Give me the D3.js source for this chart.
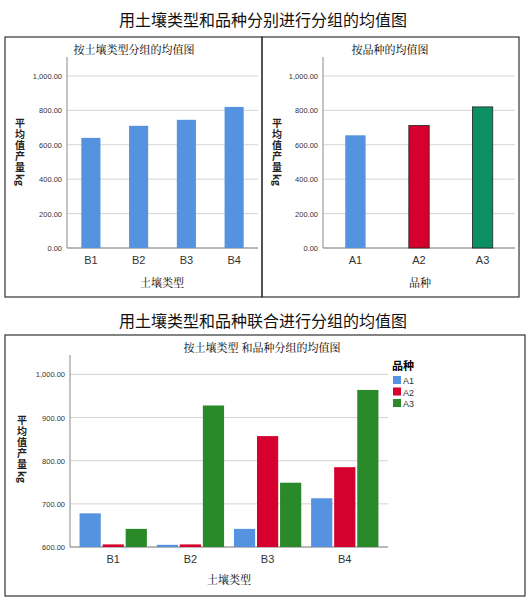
<!DOCTYPE html>
<html><head><meta charset="utf-8">
<script src="https://cdn.jsdelivr.net/npm/d3@7"></script>
<style>body{margin:0;background:#fff;font-family:"Noto Sans CJK SC",sans-serif}</style>
</head><body><svg id="c" width="527" height="603"></svg>
<script>
// data
var soilTypes = ['B1','B2','B3','B4'];
var soilMeans = [640, 710, 745, 820];
var varieties = ['A1','A2','A3'];
var varietyMeans = [655, 712, 820];
var varietyColors = ['#5592e0','#d5002d','#0a9064'];
var legendColors = ['#5592e0','#d5002d','#2a8a2a'];
var comboMeans = { // per soil type, A1..A3
    B1: [678, 606, 642],
    B2: [605, 606, 928],
    B3: [642, 857, 749],
    B4: [713, 785, 964]
};
var ticks1 = [0,200,400,600,800,1000];
var ticks2 = [600,700,800,900,1000];

var svg = d3.select('#c');
var fmt = d3.format(',.2f');
var serif = '"Noto Serif CJK SC","Noto Sans CJK SC",serif';

function title(t, x, y, size, weight) {
    svg.append('text').attr('x',x).attr('y',y).attr('text-anchor','middle')
        .attr('font-size',size).attr('font-weight',weight||'normal').attr('fill','#111').text(t);
}
function box(x,y,w,h){
    svg.append('rect').attr('x',x).attr('y',y).attr('width',w).attr('height',h)
        .attr('fill','none').attr('stroke','#333').attr('stroke-width',1.2);
}
function ylabel(x, yTop) {
    var step = 11;
    var g = svg.append('text').attr('font-size',10).attr('font-weight','bold').attr('fill','#222');
    '平均值产量'.split('').forEach(function(c,i){
        g.append('tspan').attr('x',x).attr('y',yTop+i*step).attr('text-anchor','middle').text(c);
    });
    svg.append('text').attr('transform','translate('+(x-4)+','+(yTop+4*step+3)+') rotate(90)')
        .attr('font-size',10).attr('font-weight','bold').attr('fill','#222').text('kg');
}
function axesY(y, x0, x1, ticks) {
    var g = svg.append('g');
    ticks.forEach(function(t){
        g.append('line').attr('x1',x0).attr('x2',x1).attr('y1',y(t)).attr('y2',y(t))
            .attr('stroke','#d4d4d4').attr('stroke-width',1);
        g.append('text').attr('x',x0-5).attr('y',y(t)+3).attr('text-anchor','end')
            .attr('font-size',7.5).attr('fill','#333').attr('font-family','Arial, Liberation Sans').text(fmt(t));
    });
    svg.append('line').attr('x1',x0).attr('x2',x0).attr('y1',y.range()[1]).attr('y2',y.range()[0]).attr('stroke','#888');
    svg.append('line').attr('x1',x0).attr('x2',x1).attr('y1',y.range()[0]).attr('y2',y.range()[0]).attr('stroke','#888');
}
function xlabels(x, cats, yPos) {
    cats.forEach(function(c){
        svg.append('text').attr('x',x(c)+x.bandwidth()/2).attr('y',yPos).attr('text-anchor','middle')
            .attr('font-size',11).attr('fill','#333').attr('font-family','Arial, Liberation Sans').text(c);
    });
}

title('用土壤类型和品种分别进行分组的均值图', 263, 26, 16);
title('用土壤类型和品种联合进行分组的均值图', 263, 327, 16);
box(5,37,257,260); box(262,37,257,260); box(5,335,520,261);

// chart 1
var y1 = d3.scaleLinear().domain([0,1110]).range([248,57]);
var x1 = d3.scaleBand().domain(soilTypes).range([67,258]).paddingInner(0.6).paddingOuter(0.3);
axesY(y1, 67, 258, ticks1);
svg.selectAll('.b1').data(soilMeans).enter().append('rect')
    .attr('x',(d,i)=>x1(soilTypes[i])).attr('width',x1.bandwidth())
    .attr('y',d=>y1(d)).attr('height',d=>y1(0)-y1(d)).attr('fill','#5592e0');
xlabels(x1, soilTypes, 264);
svg.append('text').attr('x',134).attr('y',54).attr('font-size',11).attr('text-anchor','middle').attr('font-family',serif).text('按土壤类型分组的均值图');
svg.append('text').attr('x',162).attr('y',287).attr('font-size',11).attr('text-anchor','middle').attr('font-family',serif).text('土壤类型');
ylabel(20, 127);

// chart 2
var y2 = d3.scaleLinear().domain([0,1110]).range([248,57]);
var x2 = d3.scaleBand().domain(varieties).range([323,515]).paddingInner(0.68).paddingOuter(0.35);
axesY(y2, 323, 515, ticks1);
svg.selectAll('.b2').data(varietyMeans).enter().append('rect')
    .attr('x',(d,i)=>x2(varieties[i])).attr('width',x2.bandwidth())
    .attr('y',d=>y2(d)).attr('height',d=>y2(0)-y2(d))
    .attr('fill',(d,i)=>varietyColors[i]).attr('stroke',(d,i)=>i?'#222':'none').attr('stroke-width',0.8);
xlabels(x2, varieties, 264);
svg.append('text').attr('x',390).attr('y',54).attr('font-size',11).attr('text-anchor','middle').attr('font-family',serif).text('按品种的均值图');
svg.append('text').attr('x',420).attr('y',287).attr('font-size',11).attr('text-anchor','middle').attr('font-family',serif).text('品种');
ylabel(277, 127);

// chart 3
var y3 = d3.scaleLinear().domain([600,1045]).range([547,355]);
var x3 = d3.scaleBand().domain(soilTypes).range([70,388]).paddingInner(0.08).paddingOuter(0.1);
var xs = d3.scaleBand().domain(varieties).range([0,x3.bandwidth()]).paddingInner(0.08).paddingOuter(0.08);
axesY(y3, 70, 388, ticks2);
soilTypes.forEach(function(s){
    svg.append('g').attr('transform','translate('+x3(s)+',0)').selectAll('rect')
        .data(comboMeans[s]).enter().append('rect')
        .attr('x',(d,i)=>xs(varieties[i])).attr('width',xs.bandwidth())
        .attr('y',d=>y3(d)).attr('height',d=>y3(600)-y3(d))
        .attr('fill',(d,i)=>legendColors[i]);
});
xlabels(x3, soilTypes, 563);
svg.append('text').attr('x',262).attr('y',352).attr('font-size',11).attr('text-anchor','middle').attr('font-family',serif).text('按土壤类型 和品种分组的均值图');
svg.append('text').attr('x',229).attr('y',584).attr('font-size',11).attr('text-anchor','middle').attr('font-family',serif).text('土壤类型');
ylabel(22, 424);

// legend
svg.append('text').attr('x',392).attr('y',370).attr('font-size',11).attr('font-weight','bold').text('品种');
varieties.forEach(function(v,i){
    svg.append('rect').attr('x',393).attr('y',376+i*11.5).attr('width',8).attr('height',8).attr('fill',legendColors[i]);
    svg.append('text').attr('x',403).attr('y',384+i*11.5).attr('font-size',9).attr('fill','#333').attr('font-family','Arial, Liberation Sans').text(v);
});
</script></body></html>
